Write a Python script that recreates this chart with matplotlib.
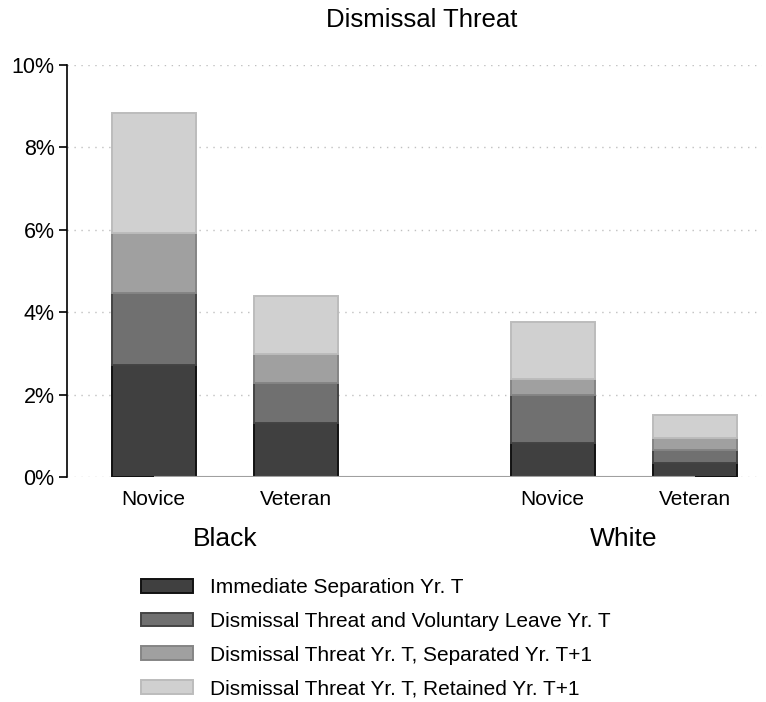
import numpy as np
import matplotlib.pyplot as plt

plt.rcParams['font.family'] = ['Liberation Sans', 'DejaVu Sans']

# data (percent), stacks from bottom to top
groups = ['Black', 'White']
bar_labels = ['Novice', 'Veteran', 'Novice', 'Veteran']
series = ['Immediate Separation Yr. T',
          'Dismissal Threat and Voluntary Leave Yr. T',
          'Dismissal Threat Yr. T, Separated Yr. T+1',
          'Dismissal Threat Yr. T, Retained Yr. T+1']
immediate = [2.71, 1.32, 0.83, 0.33]
voluntary = [1.74, 0.95, 1.17, 0.32]
separated = [1.46, 0.72, 0.37, 0.30]
retained = [2.91, 1.40, 1.39, 0.56]
yticks = [0, 2, 4, 6, 8, 10]

fills = ['#404040', '#707070', '#a0a0a0', '#d0d0d0']
edges = ['#111111', '#444444', '#858585', '#bcbcbc']

xpos = np.array([0, 1.7, 4.75, 6.45])

fig = plt.figure(figsize=(7.66, 7.02), dpi=100)
ax = fig.add_axes([0.0875, 0.3205, 0.907, 0.5875])

bottom = np.zeros(4)
handles = []
for vals, lab, fc, ec in zip([immediate, voluntary, separated, retained], series, fills, edges):
    b = ax.bar(xpos, vals, width=1.0, bottom=bottom, color=fc, edgecolor=ec,
               linewidth=1.4, label=lab, zorder=3)
    handles.append(b)
    bottom += np.array(vals)

ax.hlines(0, xpos[0], xpos[-1], color='#a0a0a0', linewidth=1.5, zorder=4)

ax.set_xlim(-1.03, 7.24)
ax.set_ylim(0, 10)
ax.set_yticks(yticks)
ax.set_yticklabels([f'{t}%' for t in yticks], fontsize=15.5)
ax.yaxis.grid(True, linestyle=(0, (1, 4)), color='#c0c0c0', linewidth=1, zorder=0)
for s in ['top', 'right', 'bottom']:
    ax.spines[s].set_visible(False)
ax.spines['left'].set_linewidth(1.2)
ax.tick_params(axis='y', length=6, width=1.2, pad=3)
ax.set_xticks(xpos)
ax.set_xticklabels(bar_labels, fontsize=15)
ax.tick_params(axis='x', length=0, pad=9)

for i, g in enumerate(groups):
    xc = (xpos[2 * i] + xpos[2 * i + 1]) / 2
    ax.text(xc, -1.5, g, ha='center', va='center', fontsize=19)

ax.set_title('Dismissal Threat', fontsize=18.5, pad=27, x=0.51)

fig.legend(handles=handles, loc='upper left', bbox_to_anchor=(0.173, 0.188),
           frameon=False, fontsize=15, handlelength=2.5, handleheight=0.62,
           labelspacing=0.7, handletextpad=0.8, borderaxespad=0)

fig.savefig('out.png', dpi=100)
